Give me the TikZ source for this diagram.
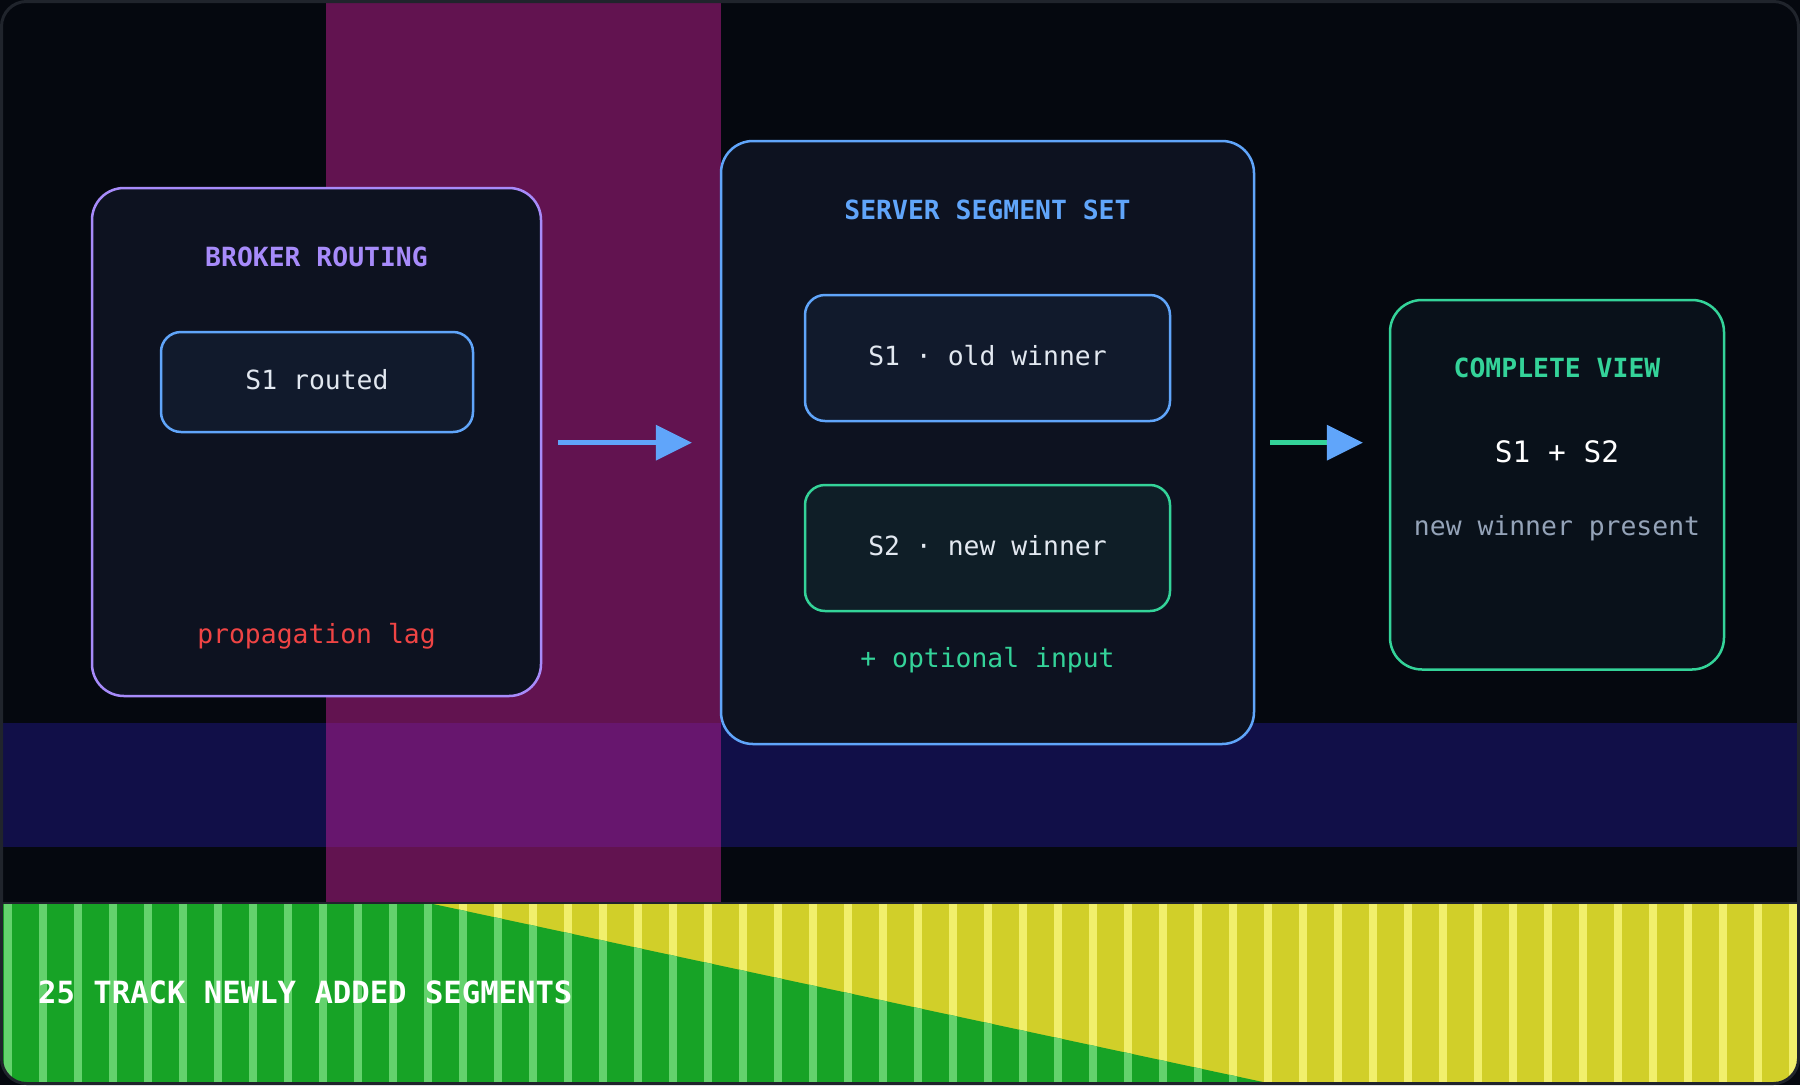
\documentclass[tikz,border=0pt]{standalone}
\usepackage{fontspec}
\newfontfamily\dmono{DejaVu Sans Mono}
\usetikzlibrary{calc}
\definecolor{bgc}{HTML}{05080F}
\definecolor{framec}{HTML}{20242C}
\definecolor{magc}{HTML}{621350}
\definecolor{indc}{HTML}{110F48}
\definecolor{ovlc}{HTML}{67166E}
\definecolor{panelc}{HTML}{0D1220}
\definecolor{cvfill}{HTML}{09111A}
\definecolor{chipb}{HTML}{111A2C}
\definecolor{chipg}{HTML}{0F1E27}
\definecolor{purp}{HTML}{A78BFA}
\definecolor{blu}{HTML}{60A5FA}
\definecolor{grn}{HTML}{34D399}
\definecolor{redc}{HTML}{EF4444}
\definecolor{txtc}{HTML}{E2E8F0}
\definecolor{grayc}{HTML}{94A3B8}
\definecolor{stripG}{HTML}{17A326}
\definecolor{stripGl}{HTML}{64D26D}
\definecolor{stripY}{HTML}{D1CF29}
\definecolor{stripYl}{HTML}{F1EF6C}
\tikzset{
  panel/.style={draw, line width=2.5pt, rounded corners=32pt, inner sep=0pt},
  chip/.style={draw, line width=2.5pt, rounded corners=20pt, inner sep=0pt,
    text=txtc, font=\dmono\fontsize{26.4}{30}\selectfont, text height=15pt, text depth=0pt},
  ttl/.style={font=\dmono\bfseries\fontsize{26.4}{30}\selectfont, anchor=base, inner sep=0pt},
  body/.style={font=\dmono\fontsize{26.4}{30}\selectfont, anchor=base, inner sep=0pt},
  conn/.style={line width=5pt},
}
\begin{document}
\begin{tikzpicture}[x=1pt,y=-1pt]
\useasboundingbox (0,0) rectangle (1800,1085);
\fill[bgc] (0,0) rectangle (1800,1085);
\begin{scope}
\clip[rounded corners=24pt] (2,2) rectangle (1798,1083);
% background bands
\fill[magc] (326,0) rectangle (721,903);
\fill[indc] (0,723) rectangle (1800,847);
\fill[ovlc] (326,723) rectangle (721,847);
% bottom striped strip
\fill[stripY] (0,904) rectangle (1800,1085);
\foreach \k in {0,...,51} {
  \fill[stripYl] ({4+35*\k},904) rectangle ({12+35*\k},1085);
}
\begin{scope}
\clip (0,904) -- (433,904) -- (1263,1082) -- (1263,1085) -- (0,1085) -- cycle;
\fill[stripG] (0,904) rectangle (1800,1085);
\foreach \k in {0,...,51} {
  \fill[stripGl] ({4+35*\k},904) rectangle ({12+35*\k},1085);
}
\end{scope}
\draw[framec, line width=2.5pt] (0,903) -- (1800,903);
\end{scope}
% frame
\draw[framec, line width=3pt, rounded corners=25pt] (1.5,1.5) rectangle (1798.5,1083.5);

% panels
\node[panel, draw=purp, fill=panelc, minimum width=449pt, minimum height=508pt] (broker) at (316.5,442) {};
\node[panel, draw=blu, fill=panelc, minimum width=533pt, minimum height=603pt] (server) at (987.5,442.5) {};
\node[panel, draw=grn, fill=cvfill, minimum width=334pt, minimum height=369.5pt] (complete) at (1557,484.75) {};

% chips
\node[chip, draw=blu, fill=chipb, minimum width=312pt, minimum height=100pt] (s1r) at (317,382) {S1 routed};
\node[chip, draw=blu, fill=chipb, minimum width=365pt, minimum height=126pt] (s1o) at (987.5,358) {S1 · old winner};
\node[chip, draw=grn, fill=chipg, minimum width=365pt, minimum height=126pt] (s2n) at (987.5,548) {S2 · new winner};

% texts
\node[ttl, text=purp] (tbroker) at (316.5,266) {BROKER ROUTING};
\node[body, text=redc] (lag) at (316.5,643.3) {propagation lag};
\node[ttl, text=blu] (tserver) at (987.5,219) {SERVER SEGMENT SET};
\node[body, text=grn] (opt) at (987.5,667) {+ optional input};
\node[ttl, text=grn] (tcomp) at (1557,377) {COMPLETE VIEW};
\node[body, text=white, font=\dmono\fontsize{29.5}{33}\selectfont] (sum) at (1557,462.7) {S1 + S2};
\node[body, text=grayc] (nwp) at (1557,535) {new winner present};
\node[anchor=base west, inner sep=0pt, text=white, font=\dmono\bfseries\fontsize{30.6}{34}\selectfont] (strip) at (38,1003) {25 TRACK NEWLY ADDED SEGMENTS};

% connectors
\coordinate (a1s) at ($(broker.east)+(16,0.7)$);
\coordinate (a1t) at ($(server.west |- a1s)+(-28,0)$);
\draw[conn, blu] (a1s) -- ($(a1t)+(-36,0)$);
\fill[blu] (a1t) -- ++(-36,-18) -- ++(0,36) -- cycle;

\coordinate (a2s) at ($(server.east |- a1s)+(15,0)$);
\coordinate (a2t) at ($(complete.west |- a1s)+(-26,0)$);
\draw[conn, grn] (a2s) -- ($(a2t)+(-36,0)$);
\fill[blu] (a2t) -- ++(-36,-18) -- ++(0,36) -- cycle;
\end{tikzpicture}
\end{document}
